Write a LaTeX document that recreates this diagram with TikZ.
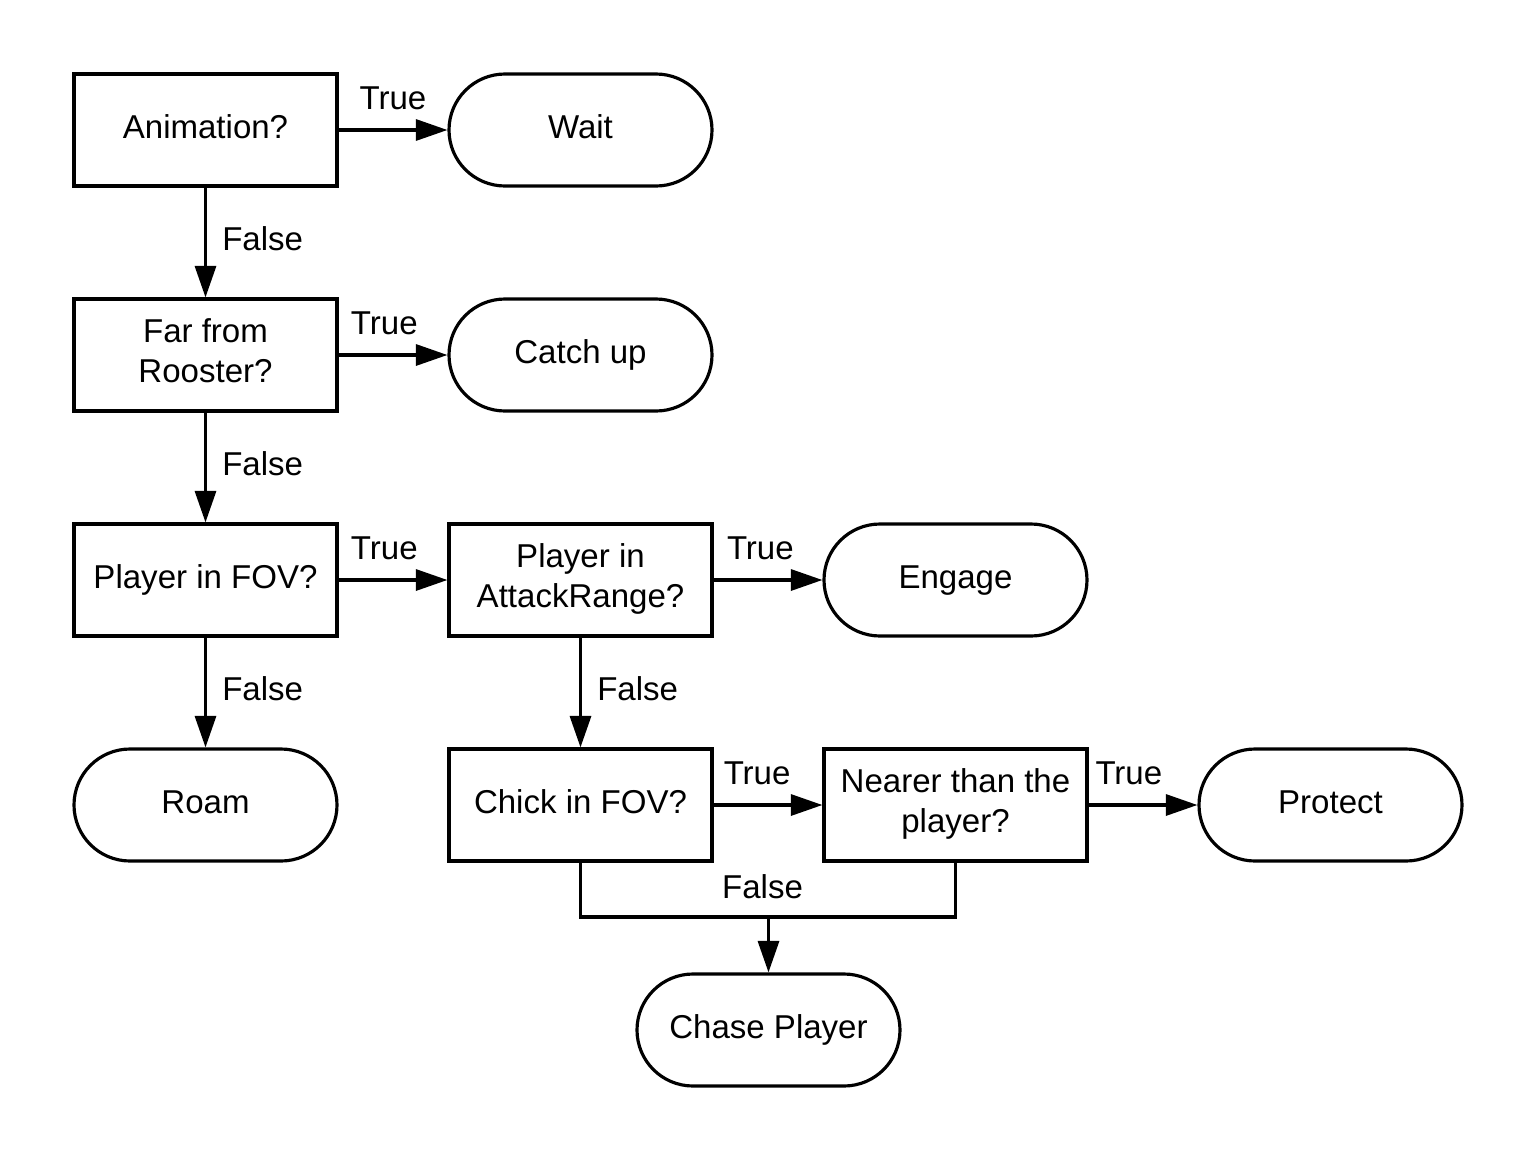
\documentclass[tikz,border=0pt]{standalone}
\usepackage{fontspec}
\setmainfont{Liberation Sans}
\usetikzlibrary{arrows.meta}

\tikzset{
  test/.style={draw, line width=0.9pt, minimum width=2.63cm, minimum height=1.12cm,
    align=center, text height=0.75em, text depth=0.25em,
    font=\fontsize{9.4}{11.3}\selectfont},
  twolines/.style={text height={}},
  action/.style={test, rounded corners=0.56cm},
  flow/.style={line width=0.9pt, -{Triangle[length=9pt,width=6pt]}},
  lbl/.style={font=\fontsize{9.4}{11.3}\selectfont}
}

\begin{document}
\begin{tikzpicture}
\useasboundingbox (0,0) rectangle (15.38,-11.63);

\node[test] (Animation) at (2.055,-1.30) {Animation?};
\node[action] (Wait) at (5.805,-1.30) {Wait};

\node[test, twolines] (Far) at (2.055,-3.55) {Far from\\Rooster?};
\node[action] (CatchUp) at (5.805,-3.55) {Catch up};

\node[test] (PlayerFOV) at (2.055,-5.80) {Player in FOV?};
\node[test, twolines] (AttackRange) at (5.805,-5.80) {Player in\\AttackRange?};
\node[action] (Engage) at (9.555,-5.80) {Engage};

\node[action] (Roam) at (2.055,-8.05) {Roam};
\node[test] (ChickFOV) at (5.805,-8.05) {Chick in FOV?};
\node[test, twolines] (Nearer) at (9.555,-8.05) {Nearer than the\\player?};
\node[action] (Protect) at (13.305,-8.05) {Protect};

\node[action] (Chase) at (7.685,-10.30) {Chase Player};

\draw[flow] (Animation) -- node[lbl, above=2pt, pos=0.5]{True} (Wait);
\draw[flow] (Animation) -- node[lbl, right=1pt, midway, yshift=1.2pt]{False} (Far);

\draw[flow] (Far) -- node[lbl, above=2pt, pos=0.42]{True} (CatchUp);
\draw[flow] (Far) -- node[lbl, right=1pt, midway, yshift=1.2pt]{False} (PlayerFOV);

\draw[flow] (PlayerFOV) -- node[lbl, above=2pt, pos=0.42]{True} (AttackRange);
\draw[flow] (PlayerFOV) -- node[lbl, right=1pt, midway, yshift=1.2pt]{False} (Roam);

\draw[flow] (AttackRange) -- node[lbl, above=2pt, pos=0.43]{True} (Engage);
\draw[flow] (AttackRange) -- node[lbl, right=1pt, midway, yshift=1.2pt]{False} (ChickFOV);

\draw[flow] (ChickFOV) -- node[lbl, above=2pt, pos=0.40]{True} (Nearer);
\draw[flow] (Nearer) -- node[lbl, above=2pt, pos=0.37]{True} (Protect);

\coordinate (merge) at (7.685,-9.17);
\draw[line width=0.9pt] (ChickFOV.south) |- (merge) node[lbl, above=1.5pt, xshift=-0.06cm]{False} -| (Nearer.south);
\draw[flow] (merge) -- (Chase);

\end{tikzpicture}
\end{document}
